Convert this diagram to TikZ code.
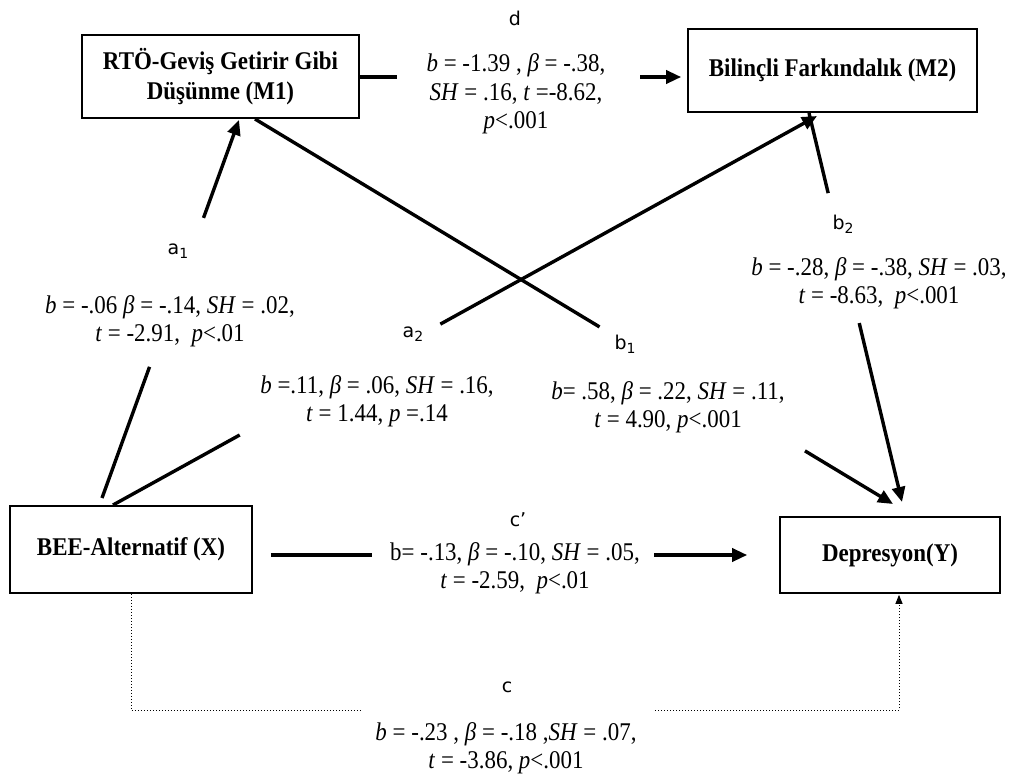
\documentclass[tikz,border=0pt]{standalone}
\usepackage{fontspec}
\setmainfont{Liberation Serif}[FakeStretch=0.9]
\newfontfamily\lblfont{DejaVu Sans}
\usetikzlibrary{arrows.meta,calc}

% sans path label with a lowered index
\newcommand{\plab}[2]{#1\lower4pt\hbox{\fontsize{14}{14}\selectfont #2}}

\begin{document}
\begin{tikzpicture}[x=1pt,y=-1pt,
  box/.style={draw, line width=1.6pt, inner sep=0pt, align=center,
    font=\fontsize{25.5}{30}\selectfont\bfseries},
  stat/.style={inner sep=0pt, align=center, font=\fontsize{25.5}{28.5}\selectfont},
  lbl/.style={inner sep=0pt, font=\lblfont\fontsize{19}{22}\selectfont},
  conn/.style={line width=3.4pt},
  tip/.style={-{Triangle[length=15pt,width=13pt]}},
  dot/.style={dotted, line width=1pt},
]
\path[use as bounding box] (0,0) rectangle (1017,780);

% variables
\node[box, minimum width=277pt, minimum height=83pt] (m1) at (220.5,76.5)
  {RTÖ-Geviş Getirir Gibi\\Düşünme (M1)};
\node[box, minimum width=289pt, minimum height=83pt] (m2) at (832.5,70.5)
  {Bilinçli Farkındalık (M2)};
\node[box, minimum width=242pt, minimum height=87pt] (x) at (131,549.5)
  {BEE-Alternatif (X)};
\node[box, minimum width=220pt, minimum height=76pt] (y) at (890,555)
  {Depresyon(Y)};

% path end points on the boxes
\coordinate (a1s) at (102,498);  \coordinate (a1e) at (239,120);
\coordinate (a2s) at (113,505);  \coordinate (a2e) at (817,116);
\coordinate (b1s) at (255,119);  \coordinate (b1e) at (893,504);
\coordinate (b2s) at (809,113);  \coordinate (b2e) at (902,502);

% d : M1 -> M2
\draw[conn] (m1.east |- 0,77) -- (397,77);
\draw[conn,tip] (640,77) -- ([xshift=-6pt]m2.west |- 0,77);
\node[lbl] (ld) at (515,18) {d};
\node[stat] (sd) at (516,94)
  {\textit{b} = -1.39 , \textit{β} = -.38,\\\textit{SH} = .16, \textit{t} =-8.62,\\\textit{p}<.001};

% a1 : X -> M1
\draw[conn] (a1s) -- ($(a1s)!0.347!(a1e)$);
\draw[conn,tip] ($(a1s)!0.741!(a1e)$) -- (a1e);
\node[lbl] (la1) at (178,251) {\plab{a}{1}};
\node[stat] (sa1) at (170,321)
  {\textit{b} = -.06 \textit{β} = -.14, \textit{SH} = .02,\\\textit{t} = -2.91, ~\textit{p}<.01};

% a2 : X -> M2
\draw[conn] (a2s) -- ($(a2s)!0.18!(a2e)$);
\draw[conn,tip] ($(a2s)!0.465!(a2e)$) -- (a2e);
\node[lbl] (la2) at (413,334) {\plab{a}{2}};
\node[stat] (sa2) at (377,401)
  {\textit{b} =.11, \textit{β} = .06, \textit{SH} = .16,\\\textit{t} = 1.44, \textit{p} =.14};

% b1 : M1 -> Y
\draw[conn] (b1s) -- ($(b1s)!0.54!(b1e)$);
\draw[conn,tip] ($(b1s)!0.862!(b1e)$) -- (b1e);
\node[lbl] (lb1) at (625,344) {\plab{b}{1}};
\node[stat] (sb1) at (668,407)
  {\textit{b}= .58, \textit{β} = .22, \textit{SH} = .11,\\\textit{t} = 4.90, \textit{p}<.001};

% b2 : M2 -> Y
\draw[conn] (b2s) -- ($(b2s)!0.206!(b2e)$);
\draw[conn,tip] ($(b2s)!0.54!(b2e)$) -- (b2e);
\node[lbl] (lb2) at (843,224) {\plab{b}{2}};
\node[stat] (sb2) at (879,283)
  {\textit{b} = -.28, \textit{β} = -.38, \textit{SH} = .03,\\\textit{t} = -8.63, ~\textit{p}<.001};

% c' : direct effect X -> Y
\draw[conn] ([xshift=18pt]x.east |- y.west) -- (372,555);
\draw[conn,tip] ([xshift=-125pt]y.west) -- ([xshift=-32pt]y.west);
\node[lbl] (lc1) at (518,520) {c’};
\node[stat] (sc1) at (515,568)
  {b= -.13, \textit{β} = -.10, \textit{SH} = .05,\\\textit{t} = -2.59, ~\textit{p}<.01};

% c : total effect X -> Y (dotted)
\coordinate (cl) at (362,710);
\coordinate (cr) at (655,710);
\draw[dot] (x.south) -- (x.south |- cl) -- (cl);
\draw[dot,-{Triangle[length=9pt,width=7pt]}] (cr) -- ([xshift=9pt]y.south |- cr) -- ([xshift=9pt,yshift=-1pt]y.south);
\node[lbl] (lc) at (507,687) {c};
\node[stat] (sc) at (506,748)
  {\textit{b} = -.23 , \textit{β} = -.18 ,\textit{SH} = .07,\\\textit{t} = -3.86, \textit{p}<.001};
\end{tikzpicture}
\end{document}
